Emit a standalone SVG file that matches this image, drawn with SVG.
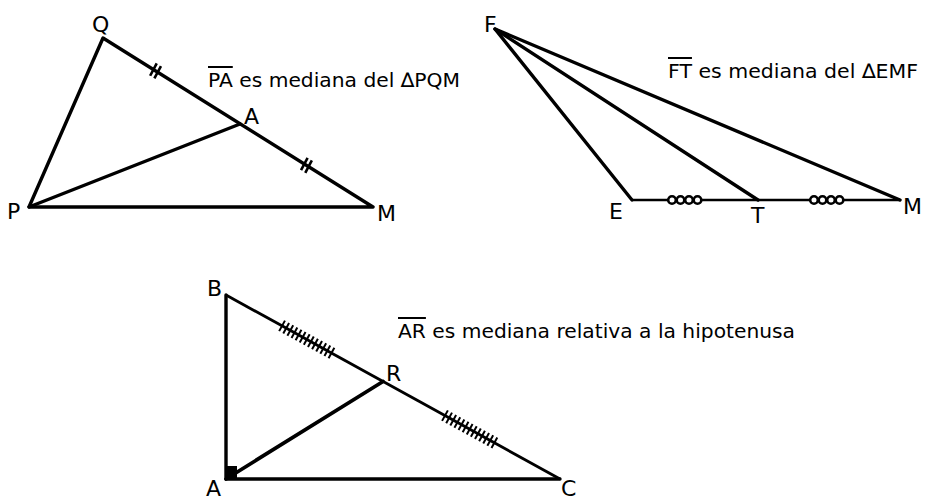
<svg xmlns="http://www.w3.org/2000/svg" width="932" height="500" viewBox="0 0 932 500">
<style>
  .ln{stroke:#000;stroke-width:3.4;fill:none;stroke-linecap:round;stroke-linejoin:round}
  .thin{stroke:#000;stroke-width:2.4;fill:none}
  .tick{stroke:#000;stroke-width:2.6;fill:none}
  .lbl{font-family:"DejaVu Sans","Liberation Sans",sans-serif;font-size:22px;fill:#000}
  .cap{font-family:"DejaVu Sans","Liberation Sans",sans-serif;font-size:20px;fill:#000}
  .ring{fill:#fff;stroke:#000;stroke-width:2.6}
</style>
<rect width="932" height="500" fill="#fff"/>

<!-- Triangle PQM -->
<g id="tri-PQM">
  <g id="segments-PQM">
    <path class="ln" d="M29,207 L103,38 L373,207 Z"/>
    <path class="ln" d="M29,207 L240,124"/>
    <g transform="translate(103,38) rotate(32.04)">
      <path class="tick" d="M59,-7 L60,7 M64,-7 L65,7 M237,-7 L238,7 M242,-7 L243,7"/>
    </g>
  </g>
  <g id="node-Q"><text class="lbl" x="92" y="32">Q</text></g>
  <g id="node-P"><text class="lbl" x="7" y="219">P</text></g>
  <g id="node-M1"><text class="lbl" x="377" y="221">M</text></g>
  <g id="node-A1"><text class="lbl" x="244" y="124">A</text></g>
  <text class="cap" x="208" y="87" textLength="252" lengthAdjust="spacingAndGlyphs"><tspan text-decoration="overline">PA</tspan> es mediana del ∆PQM</text>
</g>

<!-- Triangle EMF -->
<g id="tri-EMF">
  <g id="segments-EMF">
    <path class="ln" d="M632,200 L495,29 L900,200"/>
    <path class="ln" d="M495,29 L758,200"/>
    <path class="thin" d="M632,200 L900,200"/>
    <circle class="ring" cx="672" cy="200" r="3.8"/>
    <circle class="ring" cx="680.5" cy="200" r="3.8"/>
    <circle class="ring" cx="689" cy="200" r="3.8"/>
    <circle class="ring" cx="697.5" cy="200" r="3.8"/>
    <circle class="ring" cx="814" cy="200" r="3.8"/>
    <circle class="ring" cx="822.5" cy="200" r="3.8"/>
    <circle class="ring" cx="831" cy="200" r="3.8"/>
    <circle class="ring" cx="839.5" cy="200" r="3.8"/>
  </g>
  <g id="node-F"><text class="lbl" x="484" y="32">F</text></g>
  <g id="node-E"><text class="lbl" x="609" y="219">E</text></g>
  <g id="node-T"><text class="lbl" x="751" y="223">T</text></g>
  <g id="node-M2"><text class="lbl" x="903" y="214">M</text></g>
  <text class="cap" x="668" y="78" textLength="250" lengthAdjust="spacingAndGlyphs"><tspan text-decoration="overline">FT</tspan> es mediana del ∆EMF</text>
</g>

<!-- Triangle ABC -->
<g id="tri-ABC">
  <g id="segments-ABC">
    <path class="ln" d="M226,295 L226,479 L560,479"/>
    <path class="thin" style="stroke-width:2.8" d="M226,295 L560,479"/>
    <path class="ln" style="stroke-width:3.8" d="M226,479 L383,381.5"/>
    <rect x="225" y="466" width="12" height="13" fill="#000"/>
    <g transform="translate(226,295) rotate(28.85)">
      <path class="tick" style="stroke-width:2" d="M64,-6 L64,6 M68.7,-6 L68.7,6 M73.4,-6 L73.4,6 M78.1,-6 L78.1,6 M82.8,-6 L82.8,6 M87.5,-6 L87.5,6 M92.2,-6 L92.2,6 M96.9,-6 L96.9,6 M101.6,-6 L101.6,6 M106.3,-6 L106.3,6 M111,-6 L111,6 M115.7,-6 L115.7,6 M120.4,-6 L120.4,6"/>
      <path class="tick" style="stroke-width:2" d="M250,-6 L250,6 M254.7,-6 L254.7,6 M259.4,-6 L259.4,6 M264.1,-6 L264.1,6 M268.8,-6 L268.8,6 M273.5,-6 L273.5,6 M278.2,-6 L278.2,6 M282.9,-6 L282.9,6 M287.6,-6 L287.6,6 M292.3,-6 L292.3,6 M297,-6 L297,6 M301.7,-6 L301.7,6 M306.4,-6 L306.4,6"/>
    </g>
  </g>
  <g id="node-B"><text class="lbl" x="207" y="296">B</text></g>
  <g id="node-R"><text class="lbl" x="386" y="381">R</text></g>
  <g id="node-A2"><text class="lbl" x="206" y="496">A</text></g>
  <g id="node-C"><text class="lbl" x="561" y="496">C</text></g>
  <text class="cap" x="398" y="338" textLength="397" lengthAdjust="spacingAndGlyphs"><tspan text-decoration="overline">AR</tspan> es mediana relativa a la hipotenusa</text>
</g>
</svg>
